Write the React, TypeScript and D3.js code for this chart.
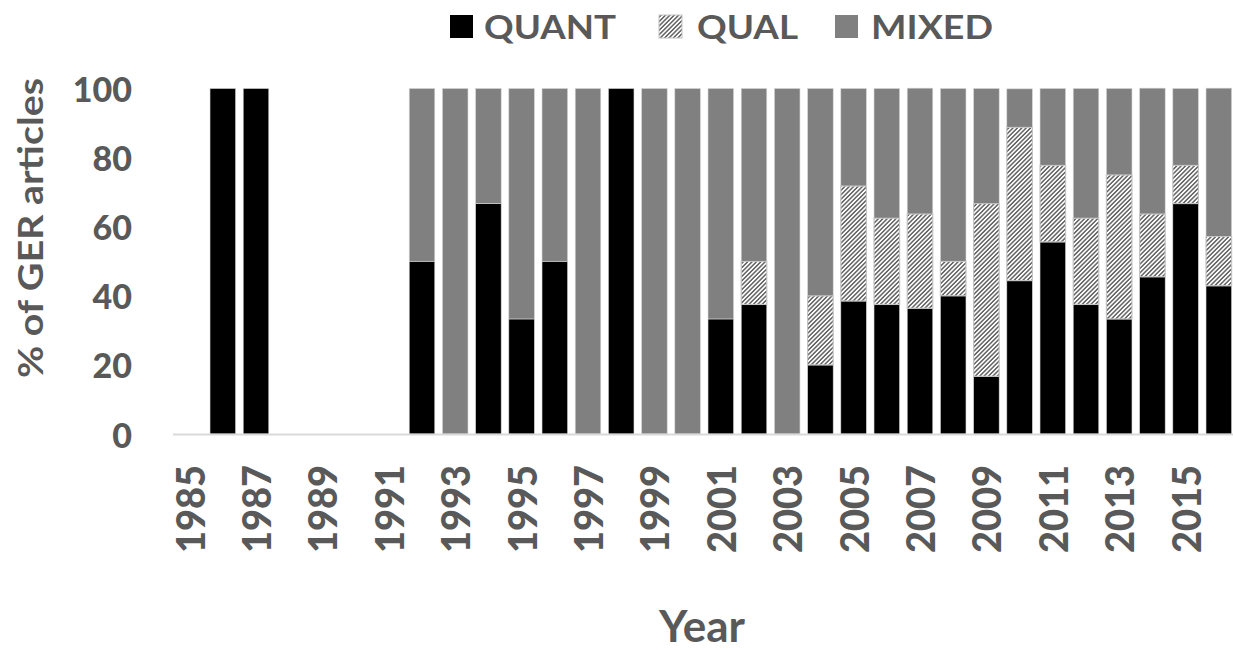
import React from "react";
import * as d3 from "d3";

// Share of GER articles by research approach, per publication year
const years = [
  "1985", "1986", "1987", "1988", "1989", "1990", "1991", "1992",
  "1993", "1994", "1995", "1996", "1997", "1998", "1999", "2000",
  "2001", "2002", "2003", "2004", "2005", "2006", "2007", "2008",
  "2009", "2010", "2011", "2012", "2013", "2014", "2015", "2016",
];
const quant = [
  0, 100, 100, 0, 0, 0, 0, 50,
  0, 66.7, 33.3, 50, 0, 100, 0, 0,
  33.3, 37.5, 0, 20, 38.5, 37.5, 36.4, 40,
  16.7, 44.4, 55.6, 37.5, 33.3, 45.5, 66.7, 42.9,
];
const qual = [
  0, 0, 0, 0, 0, 0, 0, 0,
  0, 0, 0, 0, 0, 0, 0, 0,
  0, 12.5, 0, 20, 33.3, 25, 27.3, 10,
  50, 44.4, 22.2, 25, 41.7, 18.2, 11.1, 14.3,
];
const mixed = [
  0, 0, 0, 0, 0, 0, 0, 50,
  100, 33.3, 66.7, 50, 100, 0, 100, 100,
  66.7, 50, 100, 60, 28.2, 37.5, 36.4, 50,
  33.3, 11.1, 22.2, 37.5, 25, 36.4, 22.2, 42.9,
];
const seriesKeys = ["QUANT", "QUAL", "MIXED"];
const yTicks = [0, 20, 40, 60, 80, 100];
const xTickLabels = years.filter((_, i) => i % 2 === 0);

const W = 1233;
const H = 650;
const FONT = "Lato, 'Open Sans', sans-serif";
const TEXT = "#595959";

const fills: Record<string, string> = {
  QUANT: "#000000",
  QUAL: "url(#hatch)",
  MIXED: "#808080",
};

export default function App() {
  const rows = years.map((y, i) => ({
    year: y,
    QUANT: quant[i],
    QUAL: qual[i],
    MIXED: mixed[i],
  }));
  const stacked = d3.stack<any>().keys(seriesKeys)(rows);

  const x = d3
    .scaleBand<string>()
    .domain(years)
    .range([173, 173 + 33.2 * years.length])
    .paddingInner(0.23)
    .paddingOuter(0.115);
  const y = d3.scaleLinear().domain([0, 100]).range([434, 88.5]);

  const legendItems = [
    { key: "QUANT", sx: 450, tx: 484, len: 132 },
    { key: "QUAL", sx: 659, tx: 697, len: 101 },
    { key: "MIXED", sx: 835, tx: 871, len: 122 },
  ];

  return (
    <svg
      width={W}
      height={H}
      style={{ display: "block", position: "absolute", left: 0, top: 0, background: "#fff" }}
    >
      <defs>
        <pattern
          id="hatch"
          patternUnits="userSpaceOnUse"
          width={3.1}
          height={3.1}
          patternTransform="rotate(45)"
        >
          <rect width={3.1} height={3.1} fill="#ffffff" />
          <line x1={0.8} y1={0} x2={0.8} y2={3.1} stroke="#4a4a4a" strokeWidth={1.3} />
        </pattern>
      </defs>

      {/* legend */}
      {legendItems.map((it) => (
        <g key={it.key}>
          <rect
            x={it.sx}
            y={15}
            width={23}
            height={23}
            fill={fills[it.key]}
            stroke={it.key === "QUAL" ? "#c4c4c4" : "none"}
            strokeWidth={1}
          />
          <text
            x={it.tx}
            y={38.5}
            fontFamily={FONT}
            fontWeight={700}
            fontSize={32}
            fill={TEXT}
            textLength={it.len}
            lengthAdjust="spacingAndGlyphs"
          >
            {it.key}
          </text>
        </g>
      ))}

      {/* stacked bars */}
      {stacked.map((layer) => (
        <g key={layer.key}>
          {layer.map((d, i) => {
            const h = y(d[0]) - y(d[1]);
            if (h <= 0) return null;
            return (
              <rect
                key={i}
                x={x(years[i])}
                y={y(d[1])}
                width={x.bandwidth()}
                height={h}
                fill={fills[layer.key]}
                stroke={layer.key === "QUAL" ? "#c4c4c4" : "#d6d6d6"}
                strokeWidth={layer.key === "QUAL" ? 1.2 : 0.6}
              />
            );
          })}
        </g>
      ))}

      {/* axis line */}
      <line x1={173} x2={W} y1={434.5} y2={434.5} stroke="#d9d9d9" strokeWidth={2} />

      {/* y ticks */}
      {yTicks.map((t) => (
        <text
          key={t}
          x={132}
          y={y(t)}
          textAnchor="end"
          dominantBaseline="central"
          fontFamily={FONT}
          fontWeight={900}
          fontSize={34}
          fill={TEXT}
        >
          {t}
        </text>
      ))}

      {/* x tick labels */}
      {xTickLabels.map((lab) => {
        const cx = (x(lab) as number) + x.bandwidth() / 2;
        return (
          <text
            key={lab}
            transform={`translate(${cx},465) rotate(-90)`}
            textAnchor="end"
            dominantBaseline="central"
            fontFamily={FONT}
            fontWeight={900}
            fontSize={39}
            fill={TEXT}
            textLength={88}
            lengthAdjust="spacingAndGlyphs"
          >
            {lab}
          </text>
        );
      })}

      {/* axis titles */}
      <text
        transform="translate(29,228) rotate(-90)"
        textAnchor="middle"
        dominantBaseline="central"
        fontFamily={FONT}
        fontWeight={700}
        fontSize={35}
        fill={TEXT}
        textLength={300}
        lengthAdjust="spacingAndGlyphs"
      >
        % of GER articles
      </text>
      <text
        x={702}
        y={642}
        textAnchor="middle"
        fontFamily={FONT}
        fontWeight={700}
        fontSize={44}
        fill={TEXT}
      >
        Year
      </text>
    </svg>
  );
}
